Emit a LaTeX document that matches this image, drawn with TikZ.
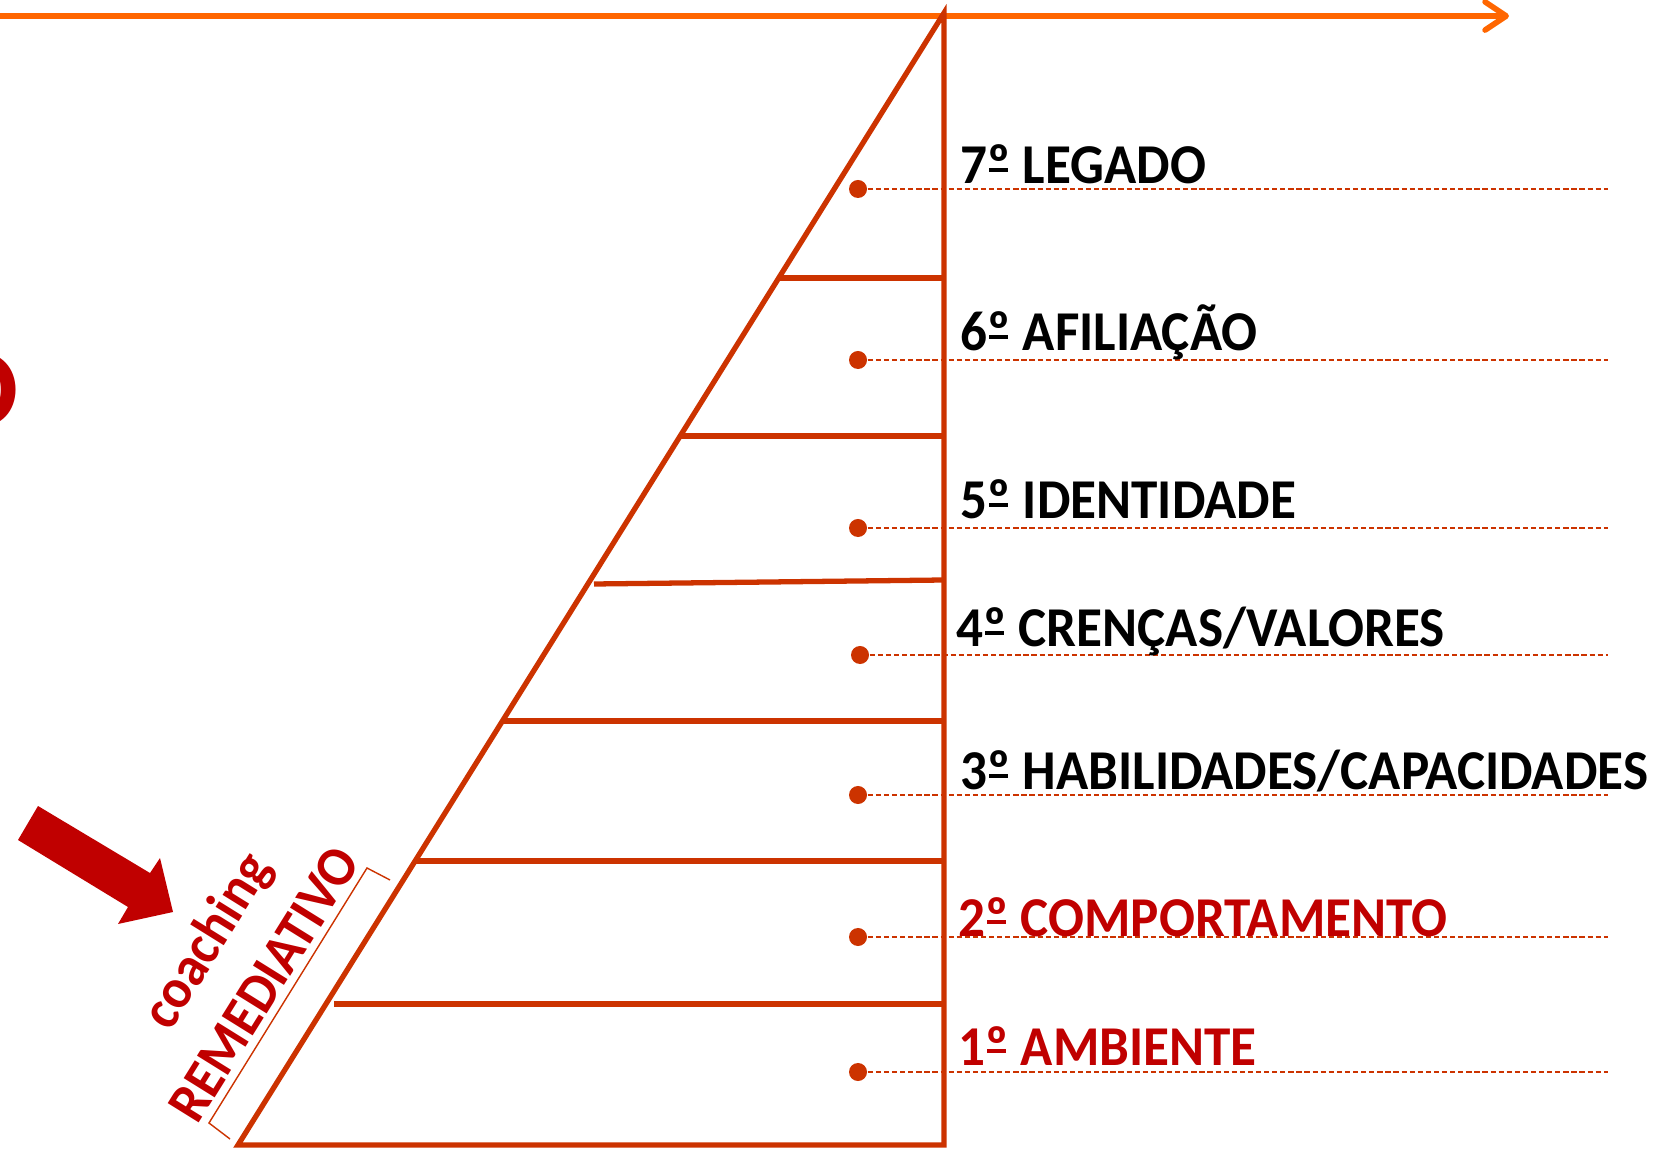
\documentclass[tikz,border=0pt]{standalone}
\usepackage{fontspec}
\setmainfont{Carlito}
\newfontfamily\narrowfont{Carlito}[FakeStretch=0.945]
\usepackage{tikz}
\usetikzlibrary{positioning,arrows.meta,calc}
\definecolor{pyramid}{RGB}{204,51,0}
\definecolor{axisorange}{RGB}{255,102,0}
\definecolor{darkred}{RGB}{192,0,0}
% ordinal sign with its bar underneath
\newcommand{\ordo}{\setbox0\hbox{º}\rlap{\kern0.03em\rule[0.22em]{\dimexpr\wd0-0.08em\relax}{0.06em}}\box0}
\tikzset{
    edge/.style={draw=pyramid, line width=1.5pt},
    axis/.style={draw=axisorange, line width=1.6pt, -{Straight Barb[length=6pt,width=8pt,round]}},
    guide/.style={draw=pyramid, line width=0.4pt, dash pattern=on 1.5pt off 0.8pt},
    dot/.style={circle, fill=pyramid, inner sep=0pt, minimum size=0.18cm},
    level/.style={anchor=base west, inner sep=0pt, font=\narrowfont\fontsize{16}{19}\selectfont\bfseries},
    slanted/.style={inner sep=0pt, rotate=58.1, text=darkred, font=\narrowfont\fontsize{16}{19}\selectfont\bfseries},
    pointer/.style={fill=darkred},
    bracket/.style={draw=pyramid, line width=0.4pt},
}
\begin{document}
\begin{tikzpicture}
        [x=0.01cm, y=-0.01cm]
        \useasboundingbox (0,0) rectangle (1678,1149);

        % time axis along the top
        \coordinate (axl) at (0,16);
        \coordinate (axr) at (1509,16);
        \draw[axis] (axl) -- (axr);

        % the pyramid
        \coordinate (top) at (944,13);
        \coordinate (bl) at (238,1145);
        \coordinate (br) at (944,1145);
        \draw[edge, line join=miter] (br) -- (bl) -- (top) -- cycle;

        \draw[edge] (779,278) -- (944,278);
        \draw[edge] (681,436) -- (944,436);
        \draw[edge] (594,584) -- (944,580);
        \draw[edge] (503,721) -- (944,721);
        \draw[edge] (415,861) -- (944,861);
        \draw[edge] (334,1004) -- (944,1004);

        % levels
        \node[dot] (d7) at (858,189) {};
        \node[dot] (d6) at (858,360) {};
        \node[dot] (d5) at (858,528) {};
        \node[dot] (d4) at (860,655) {};
        \node[dot] (d3) at (858,795) {};
        \node[dot] (d2) at (858,937) {};
        \node[dot] (d1) at (858,1072) {};

        \coordinate (g7) at (1608,189);
        \coordinate (g6) at (1608,360);
        \coordinate (g5) at (1608,528);
        \coordinate (g4) at (1608,655);
        \coordinate (g3) at (1608,795);
        \coordinate (g2) at (1608,937);
        \coordinate (g1) at (1608,1072);

        \draw[guide] (d7) -- (g7);
        \draw[guide] (d6) -- (g6);
        \draw[guide] (d5) -- (g5);
        \draw[guide] (d4) -- (g4);
        \draw[guide] (d3) -- (g3);
        \draw[guide] (d2) -- (g2);
        \draw[guide] (d1) -- (g1);

        \node[level] (l7) at (960,184) {7\ordo{} LEGADO};
        \node[level] (l6) at (960,351) {6\ordo{} AFILIAÇÃO};
        \node[level] (l5) at (960,519) {5\ordo{} IDENTIDADE};
        \node[level] (l4) at (956,647) {4\ordo{} CRENÇAS/VALORES};
        \node[level] (l3) at (960,790) {3\ordo{} HABILIDADES/CAPACIDADES};
        \node[level, text=darkred] (l2) at (958,936) {2\ordo{} COMPORTAMENTO};
        \node[level, text=darkred] (l1) at (958,1065) {1\ordo{} AMBIENTE};

        % cut-off letter on the left
        \node[anchor=east, inner sep=0pt, text=darkred,
            font=\fontsize{32}{36}\selectfont\bfseries] (cut) at (19,390) {O};

        % remedial coaching
        \fill[pointer] (38,806) -- (150,873) -- (160,858) -- (173,912)
            -- (118,924) -- (128,907) -- (18,840) -- cycle;
        \node[slanted] (coach) at (209,942) {coaching};
        \node[slanted] (remed) at (264,984) {REMEDIATIVO};
        \draw[bracket] (390,880) -- (367,868) -- (209,1123) -- (230,1139);

    \end{tikzpicture}
\end{document}
